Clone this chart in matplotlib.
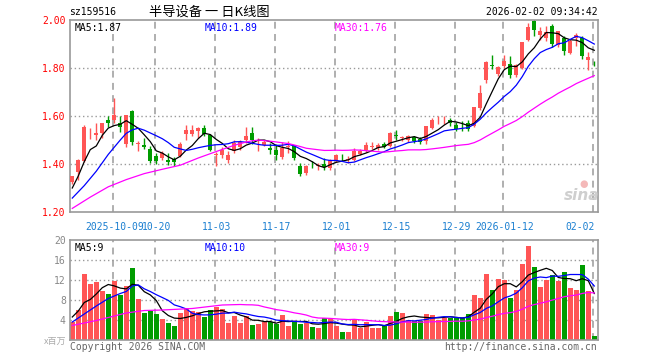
# sz159516 半导设备 日K线图 (sina style)
import numpy as np
import pandas as pd
import matplotlib
matplotlib.use('Agg')
import matplotlib.pyplot as plt

# OHLC, index 0..87
opens = [1.323, 1.366, 1.414, 1.523, 1.520, 1.530, 1.582, 1.582, 1.572, 1.485,
         1.620, 1.482, 1.481, 1.464, 1.435, 1.425, 1.418, 1.422, 1.435, 1.523,
         1.527, 1.536, 1.548, 1.520, 1.437, 1.439, 1.415, 1.456, 1.471, 1.502,
         1.530, 1.497, 1.481, 1.467, 1.460, 1.428, 1.472, 1.476, 1.390, 1.362,
         1.402, 1.391, 1.400, 1.383, 1.414, 1.427, 1.416, 1.418, 1.442, 1.457,
         1.472, 1.467, 1.485, 1.474, 1.520, 1.508, 1.499, 1.511, 1.504, 1.494,
         1.551, 1.586, 1.586, 1.585, 1.564, 1.552, 1.571, 1.560, 1.634, 1.750,
         1.814, 1.776, 1.809, 1.816, 1.770, 1.802, 1.916, 1.994, 1.939, 1.925,
         1.976, 1.897, 1.927, 1.861, 1.925, 1.927, 1.834, 1.822]
closes = [1.348, 1.418, 1.553, 1.527, 1.530, 1.569, 1.569, 1.606, 1.553, 1.606,
          1.492, 1.486, 1.471, 1.411, 1.414, 1.446, 1.407, 1.410, 1.485, 1.543,
          1.540, 1.550, 1.523, 1.457, 1.442, 1.457, 1.439, 1.488, 1.492, 1.518,
          1.499, 1.500, 1.490, 1.457, 1.436, 1.465, 1.475, 1.425, 1.359, 1.390,
          1.398, 1.394, 1.386, 1.418, 1.439, 1.424, 1.419, 1.453, 1.453, 1.481,
          1.476, 1.481, 1.471, 1.530, 1.516, 1.512, 1.518, 1.494, 1.490, 1.560,
          1.583, 1.589, 1.589, 1.569, 1.546, 1.549, 1.546, 1.639, 1.697, 1.823,
          1.810, 1.806, 1.830, 1.770, 1.813, 1.909, 1.972, 1.958, 1.953, 1.948,
          1.902, 1.955, 1.871, 1.913, 1.939, 1.851, 1.846, 1.820]
highs = [1.352, 1.420, 1.561, 1.550, 1.569, 1.572, 1.599, 1.673, 1.599, 1.606,
         1.627, 1.497, 1.509, 1.473, 1.446, 1.455, 1.446, 1.430, 1.490, 1.561,
         1.561, 1.553, 1.561, 1.525, 1.448, 1.469, 1.453, 1.502, 1.502, 1.553,
         1.553, 1.509, 1.502, 1.488, 1.484, 1.490, 1.494, 1.481, 1.404, 1.397,
         1.411, 1.404, 1.425, 1.420, 1.442, 1.440, 1.432, 1.467, 1.462, 1.490,
         1.490, 1.487, 1.492, 1.532, 1.543, 1.515, 1.522, 1.518, 1.511, 1.560,
         1.592, 1.599, 1.602, 1.592, 1.574, 1.578, 1.585, 1.639, 1.728, 1.830,
         1.853, 1.809, 1.855, 1.851, 1.816, 1.909, 1.986, 2.004, 1.969, 1.976,
         1.983, 1.955, 1.934, 1.920, 1.944, 1.934, 1.865, 1.830]
lows = [1.315, 1.334, 1.410, 1.505, 1.502, 1.509, 1.555, 1.572, 1.532, 1.471,
        1.481, 1.453, 1.463, 1.404, 1.400, 1.418, 1.397, 1.393, 1.430, 1.502,
        1.515, 1.509, 1.515, 1.453, 1.390, 1.425, 1.404, 1.446, 1.460, 1.488,
        1.484, 1.456, 1.474, 1.442, 1.418, 1.420, 1.446, 1.418, 1.348, 1.355,
        1.383, 1.376, 1.376, 1.376, 1.410, 1.414, 1.405, 1.411, 1.438, 1.450,
        1.462, 1.460, 1.467, 1.470, 1.502, 1.495, 1.490, 1.488, 1.483, 1.483,
        1.546, 1.565, 1.565, 1.560, 1.537, 1.537, 1.537, 1.555, 1.624, 1.739,
        1.795, 1.767, 1.799, 1.760, 1.762, 1.795, 1.913, 1.934, 1.916, 1.913,
        1.886, 1.886, 1.853, 1.858, 1.892, 1.837, 1.791, 1.809]
# volume (x百万)
volumes = [3.6, 6.1, 13.3, 11.3, 11.7, 9.9, 9.3, 11.9, 9.1, 10.9,
           14.5, 8.3, 5.5, 5.9, 5.3, 4.3, 3.5, 2.9, 5.5, 6.4,
           5.9, 5.7, 4.7, 6.1, 6.7, 6.3, 3.5, 4.9, 3.5, 4.9,
           3.1, 3.3, 3.6, 3.6, 3.2, 5.1, 2.9, 3.9, 3.3, 3.4,
           2.7, 2.5, 4.5, 4.3, 2.9, 1.7, 1.7, 4.3, 2.5, 3.7,
           2.5, 2.4, 3.1, 4.9, 5.7, 5.5, 4.0, 3.9, 3.9, 5.2,
           5.1, 4.1, 4.4, 4.5, 4.5, 4.5, 5.2, 9.1, 8.5, 13.3,
           10.1, 12.3, 12.1, 8.5, 10.1, 15.3, 18.9, 14.7, 10.7, 12.1,
           13.1, 11.9, 13.7, 10.5, 10.1, 15.1, 9.9, 0.9]

# MA values at the left edge (history before the window)
ma5_lead_idx, ma5_lead = [0, 1, 2, 3], [1.30, 1.35, 1.41, 1.46]
ma10_lead_idx, ma10_lead = [0, 2, 4, 6, 8], [1.258, 1.31, 1.37, 1.44, 1.50]
ma30_lead_idx = [0, 3, 6, 9, 12, 15, 18, 21, 24, 27, 28]
ma30_lead = [1.215, 1.262, 1.305, 1.335, 1.360, 1.378, 1.395, 1.425, 1.452, 1.478, 1.485]
vma5_lead_idx, vma5_lead = [0, 1, 2, 3], [4.6, 5.8, 7.5, 8.1]
vma10_lead_idx, vma10_lead = [0, 2, 4, 6, 8], [3.6, 5.2, 6.8, 8.3, 9.3]
vma30_lead_idx = [0, 4, 9, 12, 15, 20, 25, 28]
vma30_lead = [2.9, 3.9, 5.4, 5.9, 6.0, 6.3, 7.0, 7.1]

tick_idx = [7, 14, 24, 34, 44, 54, 64, 72, 87]
tick_labels = ['2025-10-09', '10-20', '11-03', '11-17', '12-01', '12-15',
               '12-29', '2026-01-12', '02-02']

RED = '#ff5555'
GREEN = '#009c00'
MAG = '#ff00ff'
GRID = '#9a9a9a'
MONO = 'DejaVu Sans Mono'
CJK = ['Noto Sans CJK SC', 'DejaVu Sans']

W, H = 660, 360
fig = plt.figure(figsize=(6.6, 3.6), dpi=100)
fig.patch.set_facecolor('white')


def px(x, y):
    return x / W, 1 - y / H


ax_p = fig.add_axes([70 / W, 1 - 212 / H, 528 / W, 192 / H])
ax_v = fig.add_axes([70 / W, 1 - 340 / H, 528 / W, 100 / H])

x = np.arange(len(closes))
o = np.array(opens)
c = np.array(closes)
up = c >= o
cols = np.where(up, RED, GREEN)


def ma_line(series, n, lead_idx, lead):
    r = pd.Series(series).rolling(n).mean().to_numpy()
    xs = list(lead_idx) + list(range(n - 1, len(series)))
    ys = list(lead) + list(r[n - 1:])
    return xs, ys


for ax in (ax_p, ax_v):
    ax.set_xlim(-0.38, 87.62)
    for s in ax.spines.values():
        s.set_color('#999999')
        s.set_linewidth(1.2)
    for t in tick_idx:
        ax.axvline(t - 0.27, color=GRID, lw=1.1, linestyle=(0, (4.5, 3.5)), zorder=1)
    ax.tick_params(length=0)

# price panel
for v in [1.4, 1.6, 1.8]:
    ax_p.axhline(v, color=GRID, lw=1.0, linestyle=(0, (1, 2)), zorder=1)
ax_p.vlines(x, lows, highs, colors=cols, lw=1.0, zorder=2)
body_h = np.maximum(np.abs(c - o), 0.0025)
ax_p.bar(x, body_h, bottom=np.minimum(o, c), width=0.68, color=cols, zorder=3)

for n, li, lv, col in [(5, ma5_lead_idx, ma5_lead, 'black'),
                       (10, ma10_lead_idx, ma10_lead, 'blue'),
                       (30, ma30_lead_idx, ma30_lead, MAG)]:
    xs, ys = ma_line(closes, n, li, lv)
    ax_p.plot(xs, ys, color=col, lw=0.9, zorder=4)

ax_p.set_ylim(1.2, 2.0)
ax_p.set_yticks([1.2, 1.4, 1.6, 1.8, 2.0])
ax_p.set_yticklabels(['%.2f' % v for v in [1.2, 1.4, 1.6, 1.8, 2.0]],
                     color='red', fontsize=7, family=MONO)
ax_p.tick_params(axis='y', pad=3)
ax_p.set_xticks(tick_idx)
ax_p.set_xticklabels(tick_labels, color='#1b7fd0', fontsize=7, family=MONO)
ax_p.tick_params(axis='x', pad=7)
ax_p.get_xticklabels()[-1].set_horizontalalignment('right')
ax_p.get_xticklabels()[-1].set_x(87.2)

# volume panel
for v in [4, 8, 12, 16]:
    ax_v.axhline(v, color=GRID, lw=1.0, linestyle=(0, (1, 2)), zorder=1)
ax_v.bar(x, volumes, width=0.82, color=cols, zorder=2)
for n, li, lv, col in [(5, vma5_lead_idx, vma5_lead, 'black'),
                       (10, vma10_lead_idx, vma10_lead, 'blue'),
                       (30, vma30_lead_idx, vma30_lead, MAG)]:
    xs, ys = ma_line(volumes, n, li, lv)
    ax_v.plot(xs, ys, color=col, lw=0.9, zorder=3)
ax_v.set_ylim(0, 20)
ax_v.set_yticks([4, 8, 12, 16, 20])
ax_v.set_yticklabels(['4', '8', '12', '16', '20'], color='#888888',
                     fontsize=7, family=MONO)
ax_v.tick_params(axis='y', pad=3)
ax_v.set_xticks([])

# texts
fig.text(*px(69, 12), 'sz159516', fontsize=7, family=MONO, va='center')
fig.text(*px(149, 12), '半导设备 一 日K线图', fontsize=9.5, family=CJK, va='center')
fig.text(*px(598, 12), '2026-02-02 09:34:42', fontsize=7, family=MONO,
         va='center', ha='right')

fig.text(*px(75, 28), 'MA5:1.87', fontsize=7, family=MONO, va='center')
fig.text(*px(205, 28), 'MA10:1.89', fontsize=7, family=MONO, va='center', color='blue')
fig.text(*px(335, 28), 'MA30:1.76', fontsize=7, family=MONO, va='center', color=MAG)
fig.text(*px(75, 248), 'MA5:9', fontsize=7, family=MONO, va='center')
fig.text(*px(205, 248), 'MA10:10', fontsize=7, family=MONO, va='center', color='blue')
fig.text(*px(335, 248), 'MA30:9', fontsize=7, family=MONO, va='center', color=MAG)

fig.text(*px(66, 341), 'x百万', fontsize=6.5, family=CJK, va='center', ha='right',
         color='#aaaaaa')
fig.text(*px(70, 347), 'Copyright 2026 SINA.COM', fontsize=7, family=MONO,
         va='center', color='#666666')
fig.text(*px(597, 347), 'http://finance.sina.com.cn', fontsize=7, family=MONO,
         va='center', ha='right', color='#666666')

# sina watermark
fig.text(*px(582, 196), 'sina', fontsize=11, fontweight='bold', style='italic',
         va='center', ha='center', color='#cfcfcf')
fig.text(*px(584, 184), '●', fontsize=7, va='center', ha='center', color='#f4b8b8')

fig.savefig('out.png', dpi=100)
